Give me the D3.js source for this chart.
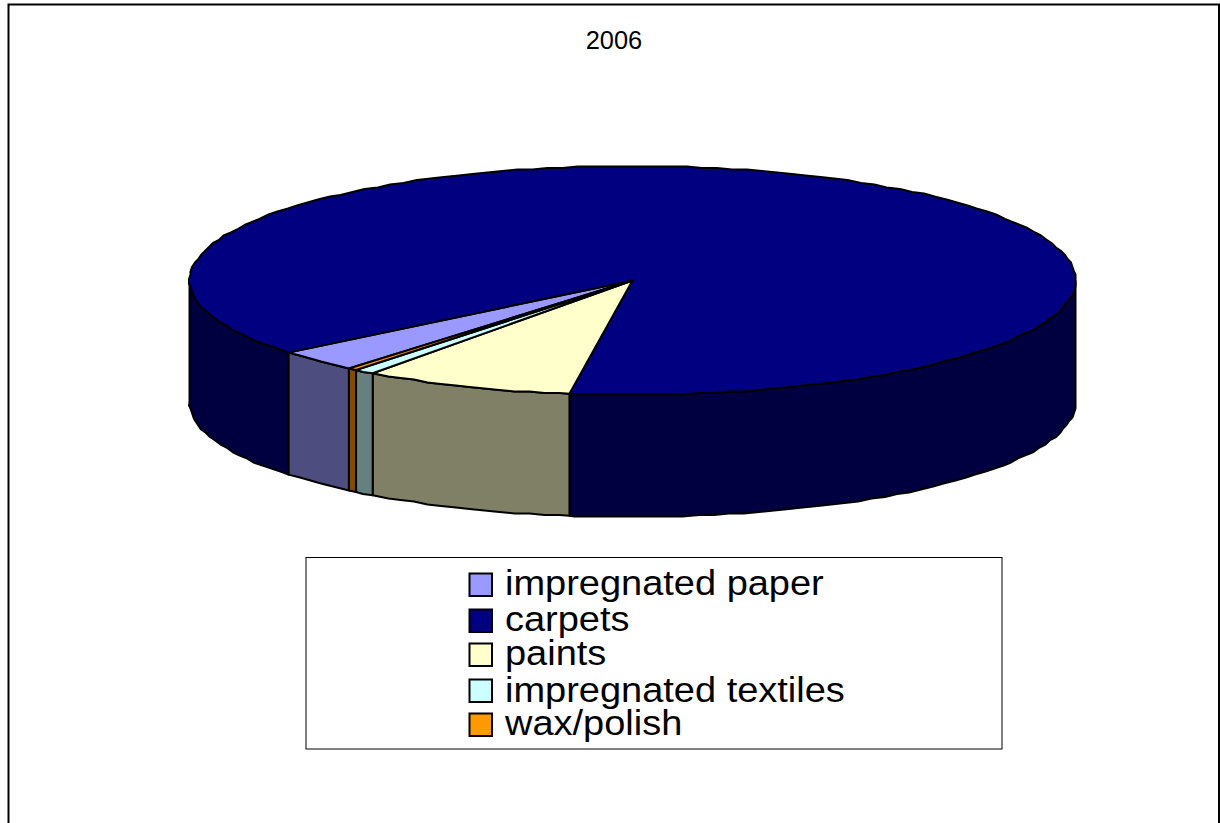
<!DOCTYPE html>
<html>
<head>
<meta charset="utf-8">
<script src="https://cdn.jsdelivr.net/npm/d3@7/dist/d3.min.js"></script>
<style>html,body{margin:0;padding:0;background:#fff;overflow:hidden}svg{display:block}text{font-family:"Liberation Sans",Arial,sans-serif;fill:#000}</style>
</head>
<body>
<script>
const title = "2006";
const categories = ["impregnated paper", "carpets", "paints", "impregnated textiles", "wax/polish"];
const values = [3.1, 88.1, 7.7, 0.75, 0.33];
const topColors = ["#9999ff", "#000080", "#ffffcc", "#ccffff", "#ff9900"];
const sideColors = ["#4d4d80", "#000040", "#808066", "#668080", "#804d00"];

const W = 1220, H = 823;
const cx = 632.5, cy = 280.5, rx = 443, ry = 114.5, depth = 122;
const startAngle = 219.8 * Math.PI / 180;
const TAU = 2 * Math.PI;
const STEP = 0.035, SNAP = 1.5; // the reference outline is a slightly snapped polygon

const svg = d3.select("body").append("svg").attr("width", W).attr("height", H);

svg.append("path").attr("d", `M8.5,${H + 5}V4.5H1219V${H + 5}`)
  .attr("fill", "#fff").attr("stroke", "#000").attr("stroke-width", 2);

svg.append("text").attr("x", 614).attr("y", 49).attr("text-anchor", "middle")
  .style("font-size", "25.4px").text(title);

const arcs = d3.pie().sort(null).value(d => d)
  .startAngle(startAngle).endAngle(startAngle + TAU)(values);

const px = a => cx + rx * Math.sin(a);
const py = a => cy - ry * Math.cos(a);
const snap = v => Math.round(v / SNAP) * SNAP;

// outline points between two angles: exact at the ends, snapped between them
function rim(a0, a1) {
  const pts = [[px(a0), py(a0)]];
  for (let k = Math.ceil(a0 / STEP + 0.3); k * STEP < a1 - 0.3 * STEP; k++) {
    const a = k * STEP;
    pts.push([snap(px(a)) , snap(py(a))]);
  }
  pts.push([px(a1), py(a1)]);
  return pts;
}

const line = d3.line();
const visible = [[Math.PI / 2, 3 * Math.PI / 2], [Math.PI / 2 + TAU, 3 * Math.PI / 2 + TAU]];
const walls = [];
arcs.forEach(d => visible.forEach(([v0, v1]) => {
  const a0 = Math.max(d.startAngle, v0), a1 = Math.min(d.endAngle, v1);
  if (a1 > a0) walls.push({index: d.index, a0, a1});
}));

svg.append("g").selectAll("path").data(walls).join("path")
  .attr("d", w => {
    const upper = rim(w.a0, w.a1);
    const lower = upper.slice().reverse().map(([x, y]) => [x, y + depth]);
    return line(upper.concat(lower)) + "Z";
  })
  .attr("fill", w => sideColors[w.index])
  .attr("stroke", "#000").attr("stroke-width", 2).attr("stroke-linejoin", "round");

svg.append("g").selectAll("path").data(arcs).join("path")
  .attr("d", d => line([[cx, cy]].concat(rim(d.startAngle, d.endAngle))) + "Z")
  .attr("fill", d => topColors[d.index])
  .attr("stroke", "#000").attr("stroke-width", 2)
  .attr("stroke-linejoin", "round");

// legend
svg.append("rect").attr("x", 306).attr("y", 557.5).attr("width", 696).attr("height", 191.5)
  .attr("fill", "#fff").attr("stroke", "#000").attr("stroke-width", 1);
const baselines = [595, 631, 665, 702, 735];
const swatchTops = [573, 609, 643, 679, 713];
const rows = svg.append("g").selectAll("g").data(categories).join("g");
rows.append("rect").attr("x", 469.5).attr("y", (d, i) => swatchTops[i] + 0.5)
  .attr("width", 22.5).attr("height", 22.5)
  .attr("fill", (d, i) => topColors[i]).attr("stroke", "#000").attr("stroke-width", 2);
rows.append("text").attr("transform", (d, i) => `translate(505,${baselines[i]}) scale(1.07,1)`)
  .style("font-size", "35.5px").text(d => d);
</script>
</body>
</html>
